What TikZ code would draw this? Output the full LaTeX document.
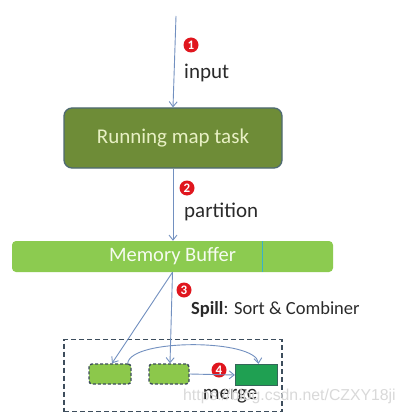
\documentclass[tikz,border=0pt]{standalone}
\usepackage{fontspec}
\setmainfont{Carlito}
\newfontfamily\wmfont{Liberation Sans}
\usetikzlibrary{arrows.meta,shapes.misc}
\definecolor{lineblue}{HTML}{7290C0}
\definecolor{runfill}{HTML}{6E8C37}
\definecolor{runedge}{HTML}{4F6A72}
\definecolor{runtext}{HTML}{E8F0C4}
\definecolor{memfill}{HTML}{8CCB50}
\definecolor{tickc}{HTML}{3AB0C8}
\definecolor{smallfill}{HTML}{8CC84B}
\definecolor{dashc}{HTML}{3D4D5C}
\definecolor{darkgreen}{HTML}{1FA052}
\definecolor{badgered}{HTML}{E0161E}
\definecolor{labeltext}{HTML}{2A2A2A}
\tikzset{
  conn/.style={draw=lineblue, line width=0.9pt, -{Straight Barb[length=5pt,width=8pt]}},
  runbox/.style={draw=runedge, line width=1.3pt, fill=runfill, rounded corners=8pt,
    minimum width=218pt, minimum height=60pt, inner sep=0pt, text=runtext, font=\fontsize{21}{24}\selectfont},
  membox/.style={fill=memfill, rounded corners=4pt, minimum width=321pt, minimum height=31pt,
    inner sep=0pt, text=white!92!memfill, font=\fontsize{20.5}{24}\selectfont},
  framebox/.style={draw=dashc, line width=1.5pt, dash pattern=on 5pt off 3pt,
    minimum width=218pt, minimum height=72pt, inner sep=0pt},
  smallbox/.style={draw=dashc, line width=1.4pt, dash pattern=on 3pt off 2pt, fill=smallfill,
    rounded corners=3pt, minimum height=20pt, inner sep=0pt},
  resultbox/.style={chamfered rectangle, chamfered rectangle corners=north east,
    chamfered rectangle xsep=4pt, chamfered rectangle ysep=4pt,
    draw=dashc!70!darkgreen, line width=1.3pt, fill=darkgreen,
    minimum width=42pt, minimum height=21pt, inner sep=0pt},
  badge/.style={circle, fill=badgered, minimum size=15pt, inner sep=0pt, text=white,
    font=\bfseries\fontsize{13}{14}\selectfont},
  lbl/.style={anchor=west, inner sep=0pt, text=labeltext, font=\fontsize{21}{24}\selectfont},
}
\begin{document}
\begin{tikzpicture}[x=1pt,y=-1pt]
\useasboundingbox (0,0) rectangle (405,414);
\fill[white] (0,0) rectangle (405,414);

% nodes
\coordinate (top) at (176,16);
\node[runbox] (run) at (173,138) {Running map task};
\node[membox] (mem) at (172.5,256.5) {Memory Buffer};
\draw[tickc, line width=1pt] (262,241) -- (262,272);
\node[framebox] (frame) at (173,375.5) {};
\node[smallbox, minimum width=42pt] (lb) at (110,374) {};
\node[smallbox, minimum width=40pt] (mb) at (169,374) {};
\node[resultbox] (rb) at (256.5,375) {};

% badges and labels
\node[badge] (b1) at (191,45) {1};
\node[lbl] (l1) at (184,73) {input};
\node[badge] (b2) at (187,188) {2};
\node[lbl] (l2) at (184,212) {partition};
\node[badge] (b3) at (184,290) {3};
\node[lbl, font=\fontsize{18.5}{22}\selectfont] (l3) at (191,309) {\textbf{Spill}: Sort \& Combiner};
\node[badge] (b4) at (219,370) {4};
\node[text=labeltext, inner sep=0pt, font=\fontsize{21}{24}\selectfont] (l4) at (230,396) {merge};
\node[text=black!15, inner sep=0pt, anchor=west, font=\wmfont\fontsize{15.8}{18}\selectfont] (wm) at (183,396) {https://blog.csdn.net/CZXY18ji};

% connectors
\draw[conn] (top) -- (run.north);
\draw[conn] (run.south) -- (run.south |- mem.north);
\draw[conn] (mem.south) -- ([xshift=2pt]lb.north);
\draw[conn] (mem.south) -- ([xshift=1pt]mb.north);
\draw[conn] (mb.east) -- (rb.west);
\draw[conn] ([xshift=-4pt]lb.north east) .. controls +(3,-25) and +(-3,-25) .. ([xshift=2pt]rb.north);
\end{tikzpicture}
\end{document}
